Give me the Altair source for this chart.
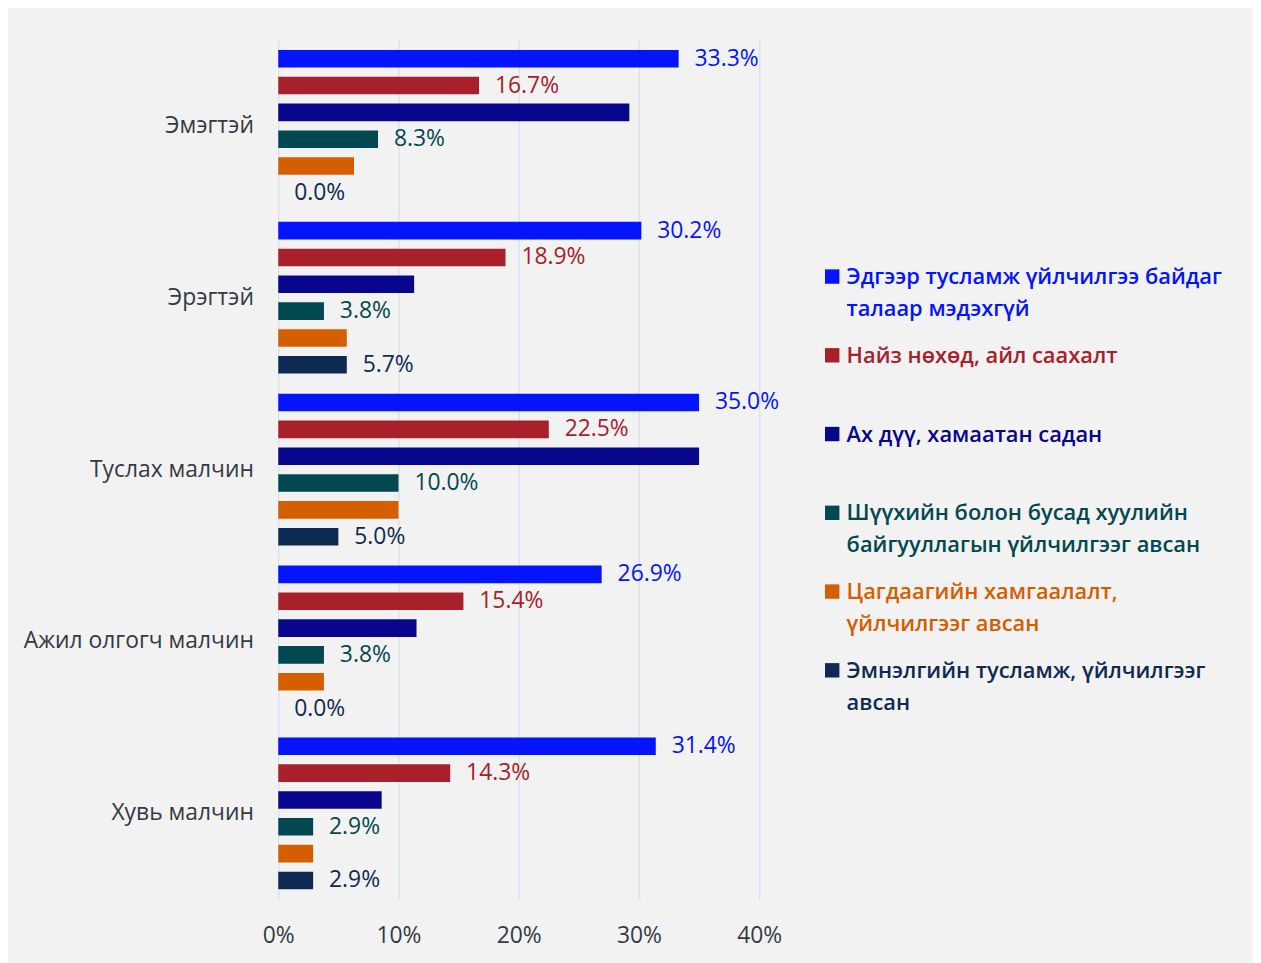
import altair as alt
import pandas as pd

categories = ["Эмэгтэй", "Эрэгтэй", "Туслах малчин", "Ажил олгогч малчин", "Хувь малчин"]

series = [
    "Эдгээр тусламж үйлчилгээ байдаг талаар мэдэхгүй",
    "Найз нөхөд, айл саахалт",
    "Ах дүү, хамаатан садан",
    "Шүүхийн болон бусад хуулийн байгууллагын үйлчилгээг авсан",
    "Цагдаагийн хамгаалалт, үйлчилгээг авсан",
    "Эмнэлгийн тусламж, үйлчилгээг авсан",
]
legend_labels = [
    "Эдгээр тусламж үйлчилгээ байдаг\nталаар мэдэхгүй",
    "Найз нөхөд, айл саахалт",
    "Ах дүү, хамаатан садан",
    "Шүүхийн болон бусад хуулийн\nбайгууллагын үйлчилгээг авсан",
    "Цагдаагийн хамгаалалт,\nүйлчилгээг авсан",
    "Эмнэлгийн тусламж, үйлчилгээг\nавсан",
]
colors = ["#0514FF", "#A8202A", "#07068C", "#024850", "#D55E00", "#0E2A53"]
show_labels = [True, True, False, True, False, True]

# percent values per series, in category order
s1_values = [33.3, 30.2, 35.0, 26.9, 31.4]
s2_values = [16.7, 18.9, 22.5, 15.4, 14.3]
s3_values = [29.2, 11.3, 35.0, 11.5, 8.6]
s4_values = [8.3, 3.8, 10.0, 3.8, 2.9]
s5_values = [6.3, 5.7, 10.0, 3.8, 2.9]
s6_values = [0.0, 5.7, 5.0, 0.0, 2.9]
all_values = [s1_values, s2_values, s3_values, s4_values, s5_values, s6_values]

x_ticks = [0, 0.1, 0.2, 0.3, 0.4]

rows = []
for si, (name, vals) in enumerate(zip(series, all_values)):
    for ci, cat in enumerate(categories):
        rows.append({"category": cat, "series": name, "value": vals[ci] / 100.0,
                     "labeled": show_labels[si]})
df = pd.DataFrame(rows)

FONT = "Open Sans"
color_scale = alt.Scale(domain=series, range=colors)

base = alt.Chart(df).encode(
    y=alt.Y("category:N", sort=categories,
            scale=alt.Scale(paddingInner=0, paddingOuter=0),
            axis=alt.Axis(title=None, ticks=False, domain=False, labelFontSize=23,
                          labelFont=FONT, labelColor="#333a44", labelPadding=25,
                          labelLimit=400)),
    yOffset=alt.YOffset("series:N", sort=series,
                        scale=alt.Scale(paddingInner=0.344, paddingOuter=0.375)),
    x=alt.X("value:Q", scale=alt.Scale(domain=[0, 0.4]),
            axis=alt.Axis(title=None, values=x_ticks, format=".0%", grid=True,
                          gridColor="#dbe2ea", gridWidth=1.5, domain=False, ticks=False,
                          labelFontSize=23, labelFont=FONT, labelColor="#333a44",
                          labelPadding=25, labelFlush=False)),
    color=alt.Color("series:N", scale=color_scale, legend=None),
)
bars = base.mark_bar()
labels = base.transform_filter(alt.datum.labeled == True).mark_text(
    align="left", baseline="middle", dx=16, fontSize=23, font=FONT
).encode(text=alt.Text("value:Q", format=".1%"))
main = alt.layer(bars, labels).properties(width=484, height=865)

leg_df = pd.DataFrame({"series": series, "label": legend_labels})
leg_base = alt.Chart(leg_df).encode(
    y=alt.Y("series:N", sort=series,
            scale=alt.Scale(type="point", range=[245.7, 642], padding=0), axis=None),
    color=alt.Color("series:N", scale=color_scale, legend=None),
)
leg_sq = leg_base.mark_square(size=210, opacity=1, yOffset=-7.5).encode(x=alt.value(7.5))
leg_tx = leg_base.mark_text(
    align="left", baseline="alphabetic", lineBreak="\n", lineHeight=32,
    fontSize=22, fontWeight=600, font=FONT
).encode(x=alt.value(22), text="label:N")
legend = alt.layer(leg_sq, leg_tx).properties(width=411, height=865)

chart = alt.hconcat(main, legend, spacing=66, bounds="flush").properties(
    padding={"left": 15, "top": 29, "right": 20, "bottom": 13},
    background="#f2f2f2",
).configure_view(stroke=None)

chart.save("out.html", embed_options={"renderer": "svg", "actions": False})
